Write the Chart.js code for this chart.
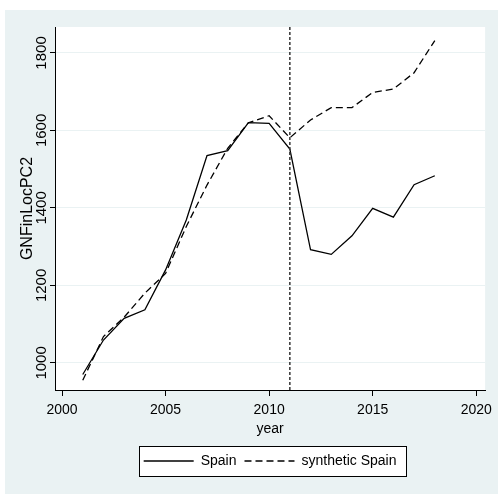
<!DOCTYPE html>
<html>
<head>
<meta charset="utf-8">
<script src="https://cdn.jsdelivr.net/npm/chart.js@4/dist/chart.umd.min.js"></script>
<style>
  html, body { margin: 0; padding: 0; background: #ffffff; }
  #wrap { width: 498px; height: 494px; }
</style>
</head>
<body>
<div id="wrap"><canvas id="chart" width="498" height="494"></canvas></div>
<script>
// data
const years = [2001, 2002, 2003, 2004, 2005, 2006, 2007, 2008, 2009, 2010, 2011, 2012, 2013, 2014, 2015, 2016, 2017, 2018];
const spain = [970, 1059, 1115, 1137, 1240, 1369, 1535, 1548, 1620, 1618, 1552, 1292, 1280, 1328, 1399, 1376, 1460, 1483];
const synthSpain = [955, 1068, 1118, 1180, 1231, 1352, 1459, 1554, 1620, 1638, 1581, 1627, 1659, 1659, 1698, 1707, 1749, 1832];
const treatYear = 2011;
const seriesNames = ["Spain", "synthetic Spain"];
const yTitle = "GNFinLocPC2";
const xTitle = "year";

const font = "'Liberation Sans', Arial, sans-serif";
const bluishGray = "#eaf2f3";

// background: graph region, white plot region, framed legend box
const backdrop = {
  id: "backdrop",
  beforeDraw(chart) {
    const ctx = chart.ctx, a = chart.chartArea;
    ctx.save();
    ctx.fillStyle = "#ffffff";
    ctx.fillRect(0, 0, chart.width, chart.height);
    ctx.fillStyle = bluishGray;
    ctx.fillRect(5, 10, chart.width - 5, chart.height - 10);
    ctx.fillStyle = "#ffffff";
    ctx.fillRect(a.left, a.top, a.right - a.left, a.bottom - a.top);

    const boxes = chart.legend.legendHitBoxes || [];
    if (boxes.length) {
      let l = Infinity, r = -Infinity, t = Infinity, b = -Infinity;
      boxes.forEach(h => {
        l = Math.min(l, h.left); r = Math.max(r, h.left + h.width);
        t = Math.min(t, h.top); b = Math.max(b, h.top + h.height);
      });
      const x0 = Math.round(l - 5), y0 = Math.round(t - 8);
      const w = Math.round(r - l + 14), h = Math.round(b - t + 16);
      ctx.fillRect(x0, y0, w, h);
      ctx.strokeStyle = "#000000";
      ctx.lineWidth = 1;
      ctx.strokeRect(x0 + 0.5, y0 + 0.5, w, h);
    }
    ctx.restore();
  }
};

// dashed vertical line at the treatment year
const treatLine = {
  id: "treatLine",
  afterDatasetsDraw(chart) {
    const ctx = chart.ctx, a = chart.chartArea;
    const x = chart.scales.x.getPixelForValue(treatYear);
    ctx.save();
    ctx.strokeStyle = "#333333";
    ctx.lineWidth = 1.5;
    ctx.setLineDash([3, 2]);
    ctx.beginPath();
    ctx.moveTo(x, a.top);
    ctx.lineTo(x, a.bottom);
    ctx.stroke();
    ctx.restore();
  }
};

const toPoints = vals => vals.map((v, i) => ({ x: years[i], y: v }));

new Chart(document.getElementById("chart").getContext("2d"), {
  type: "line",
  data: {
    datasets: [{
      label: seriesNames[0],
      data: toPoints(spain),
      borderColor: "#000000",
      borderWidth: 1.3,
      pointRadius: 0,
      tension: 0,
      fill: false
    }, {
      label: seriesNames[1],
      data: toPoints(synthSpain),
      borderColor: "#000000",
      borderWidth: 1.3,
      borderDash: [7, 4],
      pointRadius: 0,
      tension: 0,
      fill: false
    }]
  },
  plugins: [backdrop, treatLine],
  options: {
    responsive: false,
    animation: false,
    layout: { padding: { top: 27, right: 10, bottom: 16, left: 5 } },
    scales: {
      x: {
        type: "linear",
        min: 1999.66,
        max: 2020.43,
        afterFit(scale) { scale.height = 56; },
        ticks: {
          stepSize: 5,
          includeBounds: false,
          color: "#000000",
          padding: 6,
          maxRotation: 0,
          font: { family: font, size: 14 },
          callback: v => String(v)
        },
        grid: {
          drawOnChartArea: false,
          drawTicks: true,
          tickLength: 6,
          tickColor: "#000000"
        },
        border: { display: true, color: "#000000", width: 1 },
        title: {
          display: true,
          text: xTitle,
          color: "#000000",
          font: { family: font, size: 14 },
          padding: { top: 0, bottom: 8 }
        }
      },
      y: {
        min: 930,
        max: 1867,
        afterFit(scale) { scale.width = 50; },
        ticks: {
          stepSize: 200,
          includeBounds: false,
          color: "#000000",
          minRotation: 90,
          maxRotation: 90,
          crossAlign: "center",
          padding: -9,
          font: { family: font, size: 15 },
          callback: v => String(v)
        },
        grid: {
          color: bluishGray,
          lineWidth: 1,
          drawTicks: true,
          tickLength: 5,
          tickColor: "#000000"
        },
        border: { display: true, color: "#000000", width: 1 },
        title: {
          display: true,
          text: yTitle,
          color: "#000000",
          font: { family: font, size: 16 },
          padding: { top: 13, bottom: 0 }
        }
      }
    },
    plugins: {
      legend: {
        position: "bottom",
        fullSize: false,
        labels: {
          usePointStyle: true,
          pointStyle: "line",
          pointStyleWidth: 50,
          padding: 8,
          color: "#000000",
          font: { family: font, size: 14 },
          generateLabels(chart) {
            const items = Chart.defaults.plugins.legend.labels.generateLabels(chart);
            items.forEach(item => {
              const ds = chart.data.datasets[item.datasetIndex];
              item.lineDash = ds.borderDash || [];
              item.lineWidth = ds.borderWidth;
              item.strokeStyle = ds.borderColor;
            });
            return items;
          }
        }
      },
      tooltip: { enabled: false }
    }
  }
});
</script>
</body>
</html>
